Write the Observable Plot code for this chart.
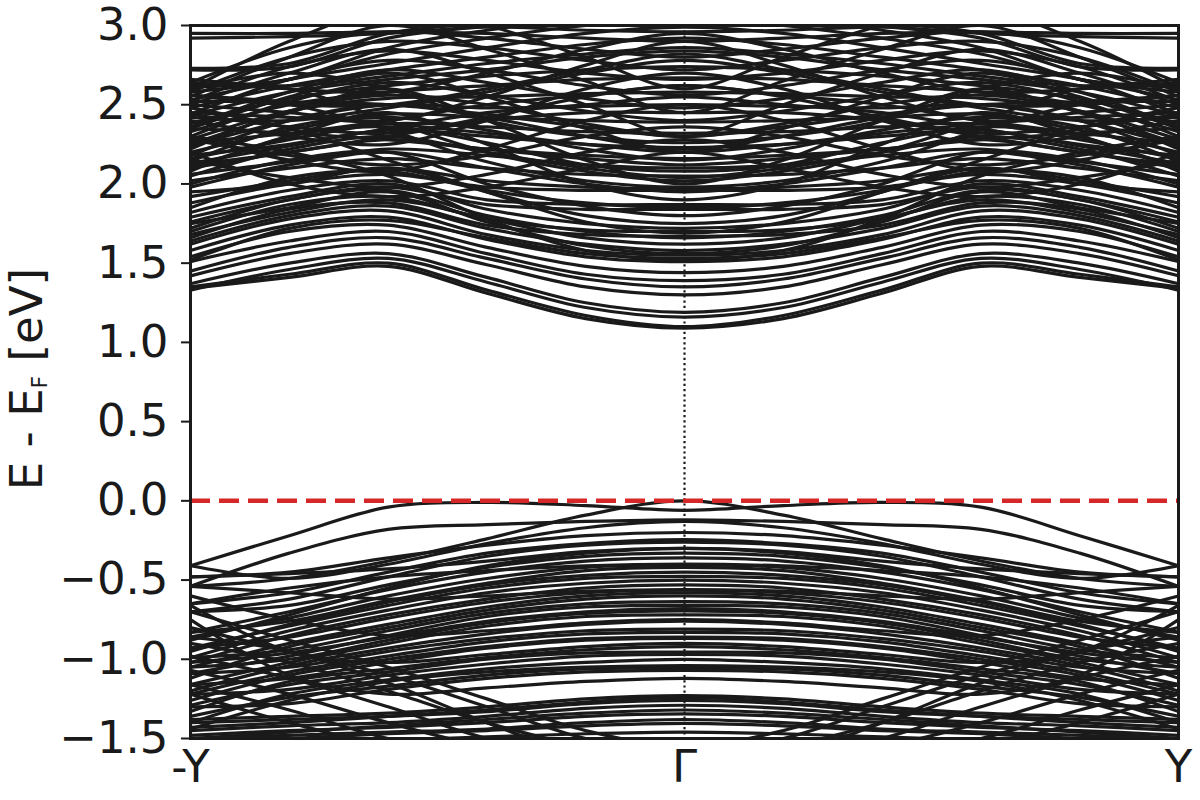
<!DOCTYPE html>
<html><head><meta charset="utf-8">
<script src="https://cdn.jsdelivr.net/npm/d3@7"></script>
<script src="https://cdn.jsdelivr.net/npm/@observablehq/plot@0.6"></script>
<style>
html,body{margin:0;padding:0;background:#fff;}
#chart{width:1200px;height:800px;}
</style></head><body><div id="chart"></div>
<script>
// k positions along Γ -> Y (the path -Y -> Γ -> Y is symmetric about Γ)
const kPoints = [0, 0.2, 0.4, 0.6, 0.8, 1.0];
const kTickValues = [-1, 0, 1];
const kTickLabels = ["-Y", "Γ", "Y"];
const energyTicks = [-1.5, -1.0, -0.5, 0.0, 0.5, 1.0, 1.5, 2.0, 2.5, 3.0];
const fermiLevel = [0];

// band energies (eV) read at kPoints, from Γ to Y
const conductionBands = [
  [1.09, 1.15, 1.31, 1.48, 1.41, 1.34],
  [1.10, 1.17, 1.33, 1.50, 1.43, 1.35],
  [1.16, 1.22, 1.38, 1.53, 1.46, 1.33],
  [1.19, 1.25, 1.41, 1.56, 1.50, 1.37],
  [1.30, 1.35, 1.49, 1.62, 1.56, 1.42],
  [1.35, 1.40, 1.53, 1.66, 1.60, 1.45],
  [1.39, 1.43, 1.56, 1.70, 1.64, 1.51],
  [1.44, 1.48, 1.60, 1.74, 1.70, 1.54],
  [1.51, 1.54, 1.65, 1.79, 1.74, 1.58],
  [1.53, 1.56, 1.66, 1.77, 1.72, 1.52],
  [1.55, 1.58, 1.68, 1.83, 1.78, 1.62],
  [1.67, 1.68, 1.74, 1.88, 1.84, 1.66],
  [1.70, 1.71, 1.78, 1.92, 1.87, 1.70],
  [1.84, 1.84, 1.87, 1.98, 1.90, 1.76],
  [1.87, 1.87, 1.90, 2.02, 1.96, 1.82],
  [1.96, 1.96, 1.98, 2.06, 2.00, 1.88],
  [1.97, 1.98, 2.02, 2.10, 2.02, 1.92],
  [2.05, 2.06, 2.10, 2.16, 2.10, 2.02],
  [2.10, 2.12, 2.18, 2.22, 2.14, 2.06],
  [2.16, 2.18, 2.22, 2.28, 2.20, 2.10],
  [2.23, 2.25, 2.30, 2.34, 2.24, 2.13],
  [2.32, 2.33, 2.36, 2.38, 2.28, 2.16],
  [2.39, 2.40, 2.42, 2.44, 2.34, 2.20],
  [2.50, 2.49, 2.48, 2.50, 2.40, 2.24],
  [2.58, 2.57, 2.55, 2.54, 2.46, 2.28],
  [2.67, 2.66, 2.62, 2.58, 2.50, 2.33],
  [2.74, 2.72, 2.68, 2.62, 2.54, 2.38],
  [2.84, 2.80, 2.72, 2.66, 2.58, 2.43],
  [2.92, 2.88, 2.80, 2.72, 2.62, 2.48],
  [2.99, 2.95, 2.86, 2.76, 2.66, 2.53],
  [3.05, 3.00, 2.92, 2.82, 2.66, 2.58],
  [3.10, 3.05, 2.97, 2.86, 2.66, 2.61],
  [3.20, 3.10, 3.00, 2.92, 2.74, 2.72],
  [3.20, 3.12, 3.02, 2.95, 2.76, 2.73],
  [2.90, 2.92, 2.95, 2.96, 2.95, 2.95],
  [2.96, 2.97, 2.99, 2.95, 2.93, 2.92],
  [1.90, 2.00, 2.25, 2.45, 2.30, 2.10],
  [2.00, 2.15, 2.40, 2.60, 2.45, 2.25],
  [2.20, 2.35, 2.55, 2.70, 2.55, 2.35],
  [2.30, 2.50, 2.70, 2.85, 2.70, 2.50],
  [2.45, 2.65, 2.85, 3.00, 2.80, 2.55],
  [2.60, 2.80, 3.00, 3.10, 2.90, 2.60],
  [2.50, 2.40, 2.22, 2.08, 2.15, 2.30],
  [2.70, 2.60, 2.40, 2.25, 2.30, 2.40],
  [2.90, 2.75, 2.55, 2.40, 2.45, 2.50],
  [2.20, 2.10, 1.98, 1.92, 2.00, 2.20],
  [2.28, 2.20, 2.06, 1.98, 2.04, 2.15],
  [1.75, 1.80, 1.95, 2.10, 2.00, 1.95],
  [2.45, 2.45, 2.40, 2.30, 2.20, 2.12],
  [2.55, 2.50, 2.45, 2.35, 2.25, 2.18],
  [2.62, 2.56, 2.50, 2.40, 2.32, 2.26],
  [2.12, 2.16, 2.22, 2.28, 2.32, 2.35],
  [2.20, 2.25, 2.32, 2.38, 2.42, 2.45],
  [2.30, 2.36, 2.44, 2.50, 2.52, 2.56],
  [2.78, 2.70, 2.58, 2.48, 2.40, 2.42],
  [2.86, 2.82, 2.76, 2.68, 2.62, 2.66],
  [1.56, 1.61, 1.76, 1.95, 1.85, 1.75],
  [1.52, 1.58, 1.78, 2.05, 2.20, 2.30],
  [1.69, 1.76, 1.95, 2.15, 2.35, 2.48],
  [2.02, 2.08, 2.20, 2.40, 2.60, 2.62],
  [1.58, 1.62, 1.72, 1.86, 1.80, 1.64],
  [1.66, 1.70, 1.80, 1.96, 1.90, 1.72],
  [1.72, 1.75, 1.84, 2.00, 1.92, 1.79],
  [1.85, 1.88, 1.96, 2.08, 2.04, 1.85],
  [1.95, 2.00, 2.10, 2.20, 2.12, 1.98],
  [2.04, 2.10, 2.20, 2.30, 2.22, 2.05],
  [2.08, 2.12, 2.26, 2.36, 2.30, 2.08],
  [2.15, 2.22, 2.34, 2.42, 2.36, 2.14],
  [2.22, 2.30, 2.42, 2.50, 2.40, 2.18],
  [2.30, 2.38, 2.50, 2.56, 2.46, 2.22],
  [2.40, 2.46, 2.56, 2.64, 2.52, 2.30],
  [2.48, 2.54, 2.64, 2.72, 2.58, 2.36],
  [2.56, 2.62, 2.72, 2.78, 2.66, 2.44],
  [2.66, 2.70, 2.78, 2.84, 2.74, 2.52],
  [2.72, 2.78, 2.86, 2.90, 2.80, 2.58],
  [2.80, 2.85, 2.92, 2.96, 2.86, 2.64],
  [2.36, 2.30, 2.18, 2.12, 2.18, 2.28],
  [2.62, 2.55, 2.42, 2.32, 2.36, 2.44],
  [2.82, 2.72, 2.60, 2.50, 2.50, 2.56],
  [2.95, 2.85, 2.70, 2.58, 2.60, 2.64],
  [1.98, 2.02, 2.14, 2.34, 2.50, 2.52],
  [2.26, 2.30, 2.40, 2.60, 2.70, 2.60],
  [1.80, 1.86, 2.00, 2.20, 2.15, 2.00],
  [1.62, 1.66, 1.78, 1.90, 1.82, 1.68]
];

const valenceBands = [
  [0.00, -0.09, -0.24, -0.38, -0.49, -0.54],
  [-0.06, -0.03, -0.01, -0.04, -0.22, -0.41],
  [-0.13, -0.17, -0.27, -0.40, -0.49, -0.41],
  [-0.12, -0.13, -0.15, -0.18, -0.33, -0.54],
  [-0.245, -0.27, -0.33, -0.45, -0.58, -0.65],
  [-0.26, -0.28, -0.35, -0.48, -0.62, -0.70],
  [-0.33, -0.35, -0.42, -0.53, -0.66, -0.70],
  [-0.36, -0.38, -0.45, -0.56, -0.70, -0.83],
  [-0.405, -0.42, -0.49, -0.60, -0.74, -0.86],
  [-0.42, -0.44, -0.52, -0.63, -0.76, -0.83],
  [-0.477, -0.49, -0.55, -0.66, -0.79, -0.93],
  [-0.50, -0.52, -0.58, -0.69, -0.82, -0.99],
  [-0.564, -0.58, -0.64, -0.74, -0.86, -0.93],
  [-0.58, -0.60, -0.67, -0.78, -0.90, -1.05],
  [-0.636, -0.65, -0.71, -0.82, -0.94, -0.99],
  [-0.66, -0.67, -0.73, -0.85, -0.98, -1.09],
  [-0.694, -0.71, -0.77, -0.88, -1.00, -1.05],
  [-0.72, -0.73, -0.79, -0.90, -1.02, -1.16],
  [-0.81, -0.82, -0.87, -0.95, -1.05, -1.09],
  [-0.83, -0.84, -0.89, -0.98, -1.08, -1.22],
  [-0.868, -0.88, -0.93, -1.02, -1.12, -1.16],
  [-0.955, -0.96, -1.00, -1.08, -1.16, -1.29],
  [-0.97, -0.98, -1.03, -1.10, -1.19, -1.22],
  [-1.057, -1.06, -1.10, -1.17, -1.24, -1.36],
  [-1.07, -1.08, -1.12, -1.19, -1.28, -1.30],
  [-1.23, -1.25, -1.30, -1.34, -1.36, -1.38],
  [-1.26, -1.28, -1.33, -1.36, -1.38, -1.40],
  [-1.29, -1.31, -1.36, -1.40, -1.42, -1.45],
  [-1.345, -1.36, -1.40, -1.43, -1.45, -1.48],
  [-1.405, -1.42, -1.45, -1.47, -1.50, -1.52],
  [-1.46, -1.47, -1.49, -1.51, -1.53, -1.55],
  [-1.60, -1.50, -1.30, -1.10, -0.95, -0.80],
  [-1.60, -1.55, -1.40, -1.20, -1.02, -0.90],
  [-1.60, -1.60, -1.50, -1.30, -1.12, -0.98],
  [-1.65, -1.60, -1.55, -1.40, -1.22, -1.07],
  [-1.70, -1.65, -1.60, -1.50, -1.32, -1.16],
  [-1.70, -1.70, -1.65, -1.55, -1.40, -1.22],
  [-0.75, -0.77, -0.82, -0.85, -0.75, -0.60],
  [-0.30, -0.32, -0.38, -0.43, -0.46, -0.48],
  [-0.20, -0.22, -0.28, -0.36, -0.45, -0.48],
  [-0.90, -0.92, -0.97, -1.02, -0.95, -0.66],
  [-1.12, -1.14, -1.18, -1.22, -1.10, -0.75],
  [-0.30, -0.33, -0.41, -0.55, -0.72, -0.88],
  [-0.45, -0.47, -0.53, -0.64, -0.78, -0.95],
  [-0.53, -0.55, -0.62, -0.72, -0.85, -1.02],
  [-0.60, -0.62, -0.69, -0.80, -0.92, -1.12],
  [-0.68, -0.70, -0.76, -0.86, -0.96, -1.02],
  [-0.76, -0.78, -0.84, -0.93, -1.04, -1.20],
  [-0.86, -0.87, -0.92, -1.00, -1.10, -1.26],
  [-0.92, -0.94, -0.99, -1.06, -1.14, -1.33],
  [-1.00, -1.02, -1.06, -1.13, -1.22, -1.40],
  [-1.04, -1.05, -1.08, -1.14, -1.26, -1.44],
  [-1.24, -1.27, -1.32, -1.36, -1.40, -1.43],
  [-1.32, -1.34, -1.38, -1.42, -1.46, -1.50],
  [-1.38, -1.40, -1.44, -1.46, -1.48, -1.50],
  [-1.55, -1.45, -1.25, -1.05, -0.88, -0.70],
  [-1.75, -1.62, -1.40, -1.15, -0.95, -0.86],
  [-0.56, -0.57, -0.60, -0.62, -0.58, -0.54],
  [-0.40, -0.41, -0.44, -0.48, -0.55, -0.65]
];

function buildRows(bands, prefix) {
  const rows = [];
  bands.forEach((b, i) => {
    for (let j = kPoints.length - 1; j >= 1; j--) rows.push({band: prefix + i, k: -kPoints[j], e: b[j]});
    for (let j = 0; j < kPoints.length; j++) rows.push({band: prefix + i, k: kPoints[j], e: b[j]});
  });
  return rows;
}
const rows = buildRows(conductionBands, "c").concat(buildRows(valenceBands, "v"));

const ink = "#1a1a1a";
const chart = Plot.plot({
  width: 1200,
  height: 800,
  marginLeft: 190,
  marginRight: 22,
  marginTop: 25,
  marginBottom: 62,
  style: {fontFamily: "'DejaVu Sans', sans-serif", fontSize: "45px", color: ink, background: "#fff", overflow: "visible"},
  x: {domain: [-1, 1]},
  y: {domain: [-1.5, 3.0]},
  marks: [
    Plot.line(rows, {x: "k", y: "e", z: "band", stroke: ink, strokeWidth: 3.2, curve: "catmull-rom", clip: true}),
    Plot.ruleX([0], {stroke: ink, strokeWidth: 2.2, strokeDasharray: "2.2,3"}),
    Plot.ruleY(fermiLevel, {stroke: "#d62728", strokeWidth: 4.5, strokeDasharray: "20,9"}),
    Plot.frame({stroke: ink, strokeWidth: 3}),
    Plot.axisY({ticks: energyTicks, tickFormat: d3.format(".1f"), tickSize: 9, tickPadding: 13, strokeWidth: 2, fontSize: 45, label: null}),
    Plot.axisX({ticks: kTickValues, tickFormat: d => kTickLabels[kTickValues.indexOf(d)], tickSize: 0, tickPadding: 12, fontSize: 45, label: null})
  ]
});

const svg = d3.select(chart);
const label = svg.append("text")
  .attr("transform", "translate(42,379) rotate(-90)")
  .attr("text-anchor", "middle")
  .attr("fill", ink)
  .style("font-family", "'DejaVu Sans', sans-serif")
  .style("font-size", "45px");
label.append("tspan").text("E - E");
label.append("tspan").attr("dy", 5).style("font-size", "22px").text("F");
label.append("tspan").attr("dy", -5).text(" [eV]");

document.getElementById("chart").appendChild(chart);
</script>
</body></html>
